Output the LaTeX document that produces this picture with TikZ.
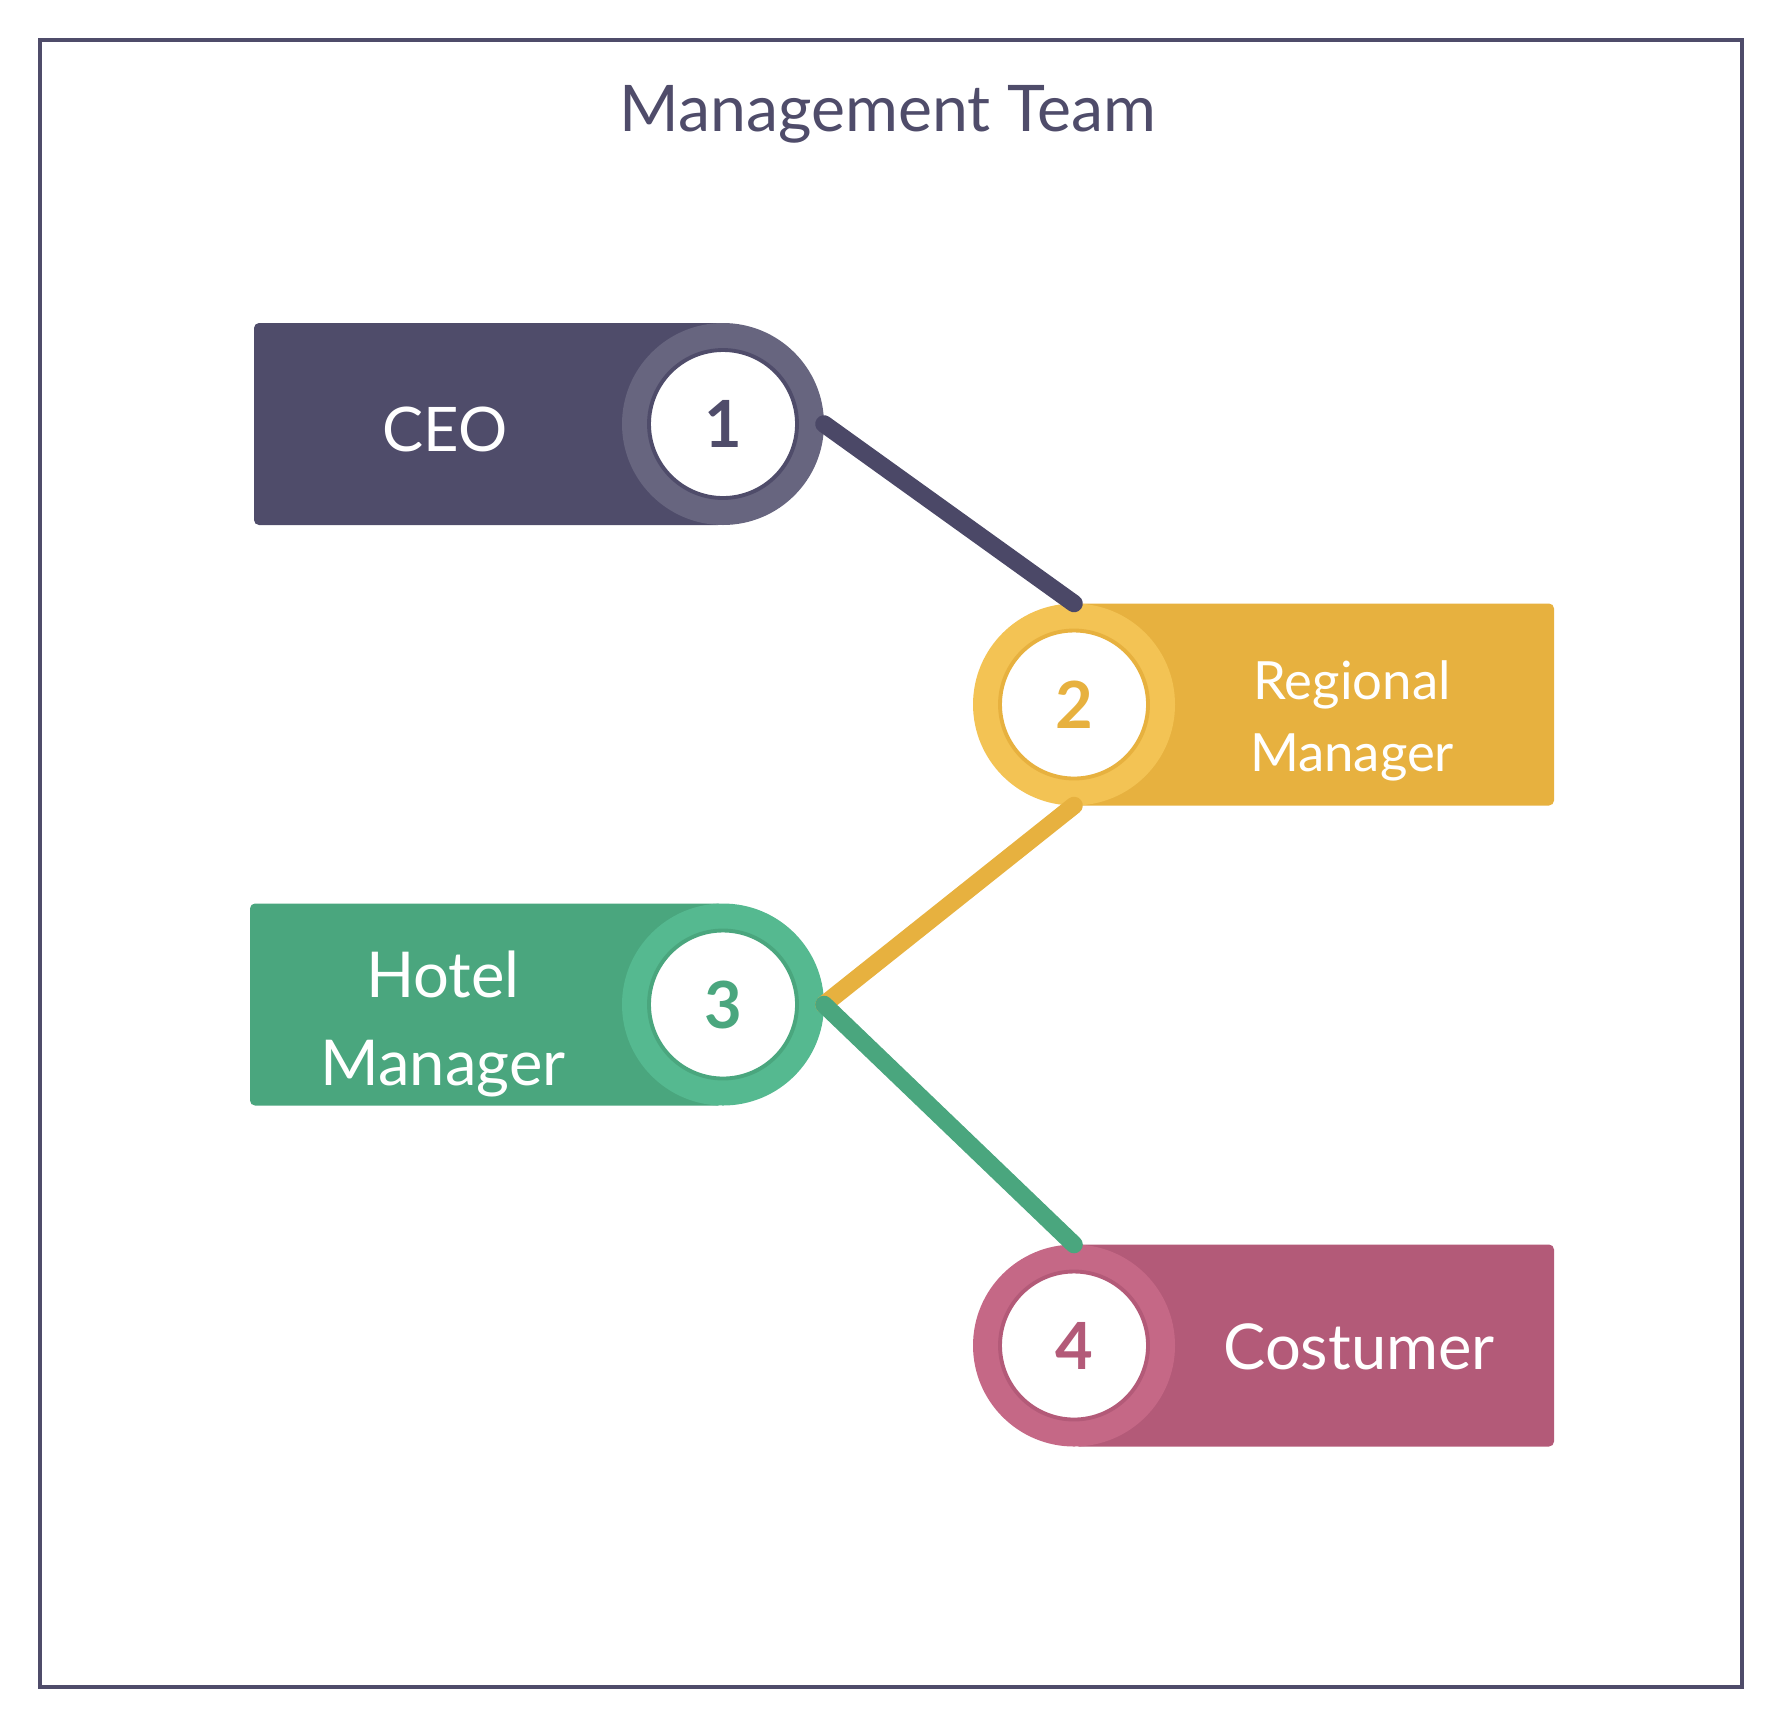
\documentclass[tikz,border=0pt]{standalone}
\usepackage{fontspec}
\setmainfont{Lato}
\usetikzlibrary{calc}

\definecolor{frame}{HTML}{4F4C6A}
\definecolor{darkbox}{HTML}{4F4C6A}
\definecolor{darkring}{HTML}{67657F}
\definecolor{darkline}{HTML}{4B4867}
\definecolor{yellowbox}{HTML}{E7B13F}
\definecolor{yellowring}{HTML}{F3C354}
\definecolor{greenbox}{HTML}{4AA67E}
\definecolor{greenring}{HTML}{55B990}
\definecolor{pinkbox}{HTML}{B35A78}
\definecolor{pinkring}{HTML}{C56886}

\tikzset{
	ring/.style={circle, fill=#1, minimum size=20.2mm, inner sep=0pt, outer sep=0pt},
	dial/.style={circle, fill=white, draw=#1, line width=1.1pt, minimum size=14.8mm, inner sep=0pt, outer sep=0pt, text=#1, font=\fontsize{18.5}{18.5}\selectfont\bfseries},
	link/.style={line width=5pt, line cap=round, draw=#1},
	boxtext/.style={text=white, align=center, inner sep=0pt}
}

\begin{document}
\begin{tikzpicture}[x=0.1mm, y=-0.1mm]
			%%%%% START %%%%%
			
			\useasboundingbox (0, 0) rectangle (1780, 1727);
			\draw[line width=1pt, color=frame] (40, 40) rectangle (1742, 1687);
			
			\node[anchor=base, text=frame, font=\fontsize{18.3}{22}\selectfont] (title) at (888, 131) {Management Team};
			
			\fill[darkbox, rounded corners=0.5mm] (254, 323) rectangle (723, 525);
			\fill[yellowbox, rounded corners=0.5mm] (1074, 603.5) rectangle (1554, 805.5);
			\fill[greenbox, rounded corners=0.5mm] (250, 903.5) rectangle (723, 1105.5);
			\fill[pinkbox, rounded corners=0.5mm] (1074, 1244.5) rectangle (1554, 1446.5);
			
			\node[boxtext, font=\fontsize{17.5}{21}\selectfont] (ceo) at (445, 429) {CEO};
			\node[boxtext, font=\fontsize{15}{20.7}\selectfont] (regional) at (1352, 721) {Regional\\Manager};
			\node[boxtext, font=\fontsize{18}{24.9}\selectfont] (hotel) at (443, 1024) {Hotel\\Manager};
			\node[boxtext, font=\fontsize{18}{22}\selectfont] (costumer) at (1359, 1347) {Costumer};
			
			\node[ring=darkring] (r1) at (723, 424) {};
			\node[dial=darkbox] (n1) at (r1) {1};
			\node[ring=yellowring] (r2) at (1074, 704.5) {};
			\node[dial=yellowbox] (n2) at (r2) {2};
			\node[ring=greenring] (r3) at (723, 1004.5) {};
			\node[dial=greenbox] (n3) at (r3) {3};
			\node[ring=pinkring] (r4) at (1074, 1345.5) {};
			\node[dial=pinkbox] (n4) at (r4) {4};
			
			\draw[link=darkline] (r1.east) -- (r2.north);
			\draw[link=yellowbox] (r2.south) -- (r3.east);
			\draw[link=greenbox] (r3.east) -- (r4.north);
			
			%%%%% END %%%%%
\end{tikzpicture}
\end{document}
